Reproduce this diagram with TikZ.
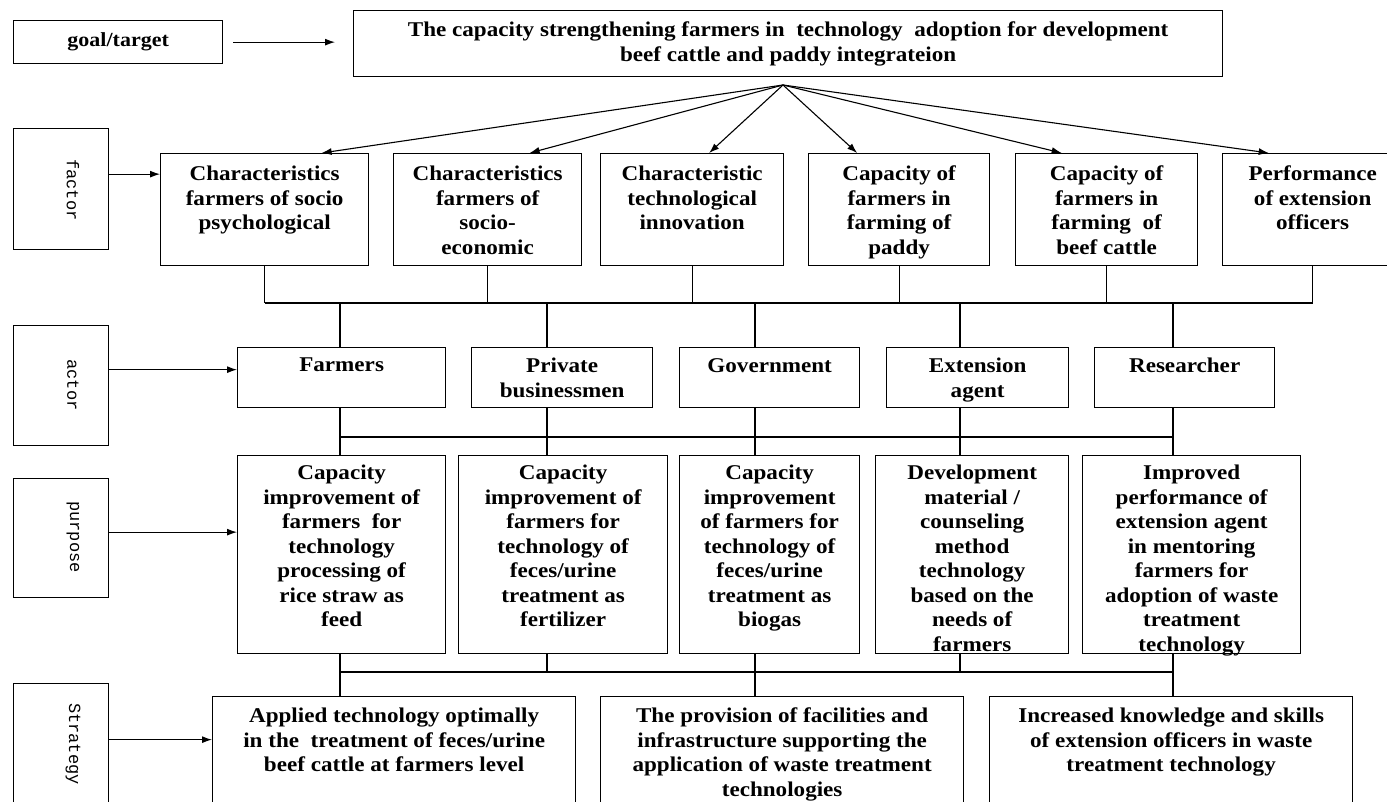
\documentclass[tikz,border=0pt]{standalone}
\usepackage{fontspec}
\setmainfont{Liberation Serif}[FakeStretch=1.1]
\newfontfamily\labelfont{Liberation Mono}
\usetikzlibrary{arrows.meta,calc}
\begin{document}
\begin{tikzpicture}[x=1pt,y=1pt,
  box/.style={draw, line width=1.3pt, inner sep=0pt, anchor=north west},
  txt/.style={inner sep=0pt, anchor=north, align=center, font=\fontsize{21}{24.5}\selectfont\bfseries},
  side/.style={inner sep=0pt, rotate=-90, font=\labelfont\fontsize{17}{17}\selectfont},
  conn/.style={line width=1.1pt},
  arr/.style={line width=1.1pt, -{Latex[length=10pt,width=7pt]}},
]
\fill[white] (0,0) rectangle (1387,-802);
\useasboundingbox (0,0) rectangle (1387,-802);
\clip (0,0) rectangle (1387,-802);

% left labels
\node[box, minimum width=209pt, minimum height=43pt, font=\fontsize{20}{24}\selectfont\bfseries] (goal) at (13,-20) {goal/target};
\node[box, minimum width=95pt, minimum height=121pt] (lf) at (13,-128) {};
\node[side] (lft) at (73,-190) {factor};
\node[box, minimum width=95pt, minimum height=120pt] (la) at (13,-325) {};
\node[side] (lat) at (73,-385) {actor};
\node[box, minimum width=95pt, minimum height=119pt] (lp) at (13,-478) {};
\node[side] (lpt) at (73,-537) {purpose};
\node[box, minimum width=95pt, minimum height=140pt] (ls) at (13,-683) {};
\node[side] (lst) at (73,-744) {Strategy};

% main box
\node[box, minimum width=869pt, minimum height=66pt] (main) at (353,-10) {};
\node[txt] (maint) at ([yshift=-12pt]main.north) {The capacity strengthening farmers in\ \ technology\ \ adoption for development\\beef cattle and paddy integrateion};
\coordinate (apex) at (783,-85);

% factor boxes
\node[box, minimum width=208pt, minimum height=112pt] (f1) at (160,-153) {};
\node[box, minimum width=188pt, minimum height=112pt] (f2) at (393,-153) {};
\node[box, minimum width=183pt, minimum height=112pt] (f3) at (600,-153) {};
\node[box, minimum width=181pt, minimum height=112pt] (f4) at (808,-153) {};
\node[box, minimum width=182pt, minimum height=112pt] (f5) at (1015,-153) {};
\node[box, minimum width=180pt, minimum height=112pt] (f6) at (1222,-153) {};
\node[txt] (f1t) at ([yshift=-13pt]f1.north) {Characteristics\\farmers of socio\\psychological};
\node[txt] (f2t) at ([yshift=-13pt]f2.north) {Characteristics\\farmers of\\socio-\\economic};
\node[txt] (f3t) at ([yshift=-13pt]f3.north) {Characteristic\\technological\\innovation};
\node[txt] (f4t) at ([yshift=-13pt]f4.north) {Capacity of\\farmers in\\farming of\\paddy};
\node[txt] (f5t) at ([yshift=-13pt]f5.north) {Capacity of\\farmers in\\farming\ \ of\\beef cattle};
\node[txt] (f6t) at ([yshift=-13pt]f6.north) {Performance\\of extension\\officers};

% actor boxes
\node[box, minimum width=208pt, minimum height=60pt] (a1) at (237,-347) {};
\node[box, minimum width=181pt, minimum height=60pt] (a2) at (471,-347) {};
\node[box, minimum width=180pt, minimum height=60pt] (a3) at (679,-347) {};
\node[box, minimum width=182pt, minimum height=60pt] (a4) at (886,-347) {};
\node[box, minimum width=180pt, minimum height=60pt] (a5) at (1094,-347) {};
\node[txt] (a1t) at ([yshift=-11pt]a1.north) {Farmers};
\node[txt] (a2t) at ([yshift=-11pt]a2.north) {Private\\businessmen};
\node[txt] (a3t) at ([yshift=-11pt]a3.north) {Government};
\node[txt] (a4t) at ([yshift=-11pt]a4.north) {Extension\\agent};
\node[txt] (a5t) at ([yshift=-11pt]a5.north) {Researcher};

% purpose boxes
\node[box, minimum width=208pt, minimum height=198pt] (p1) at (237,-455) {};
\node[box, minimum width=209pt, minimum height=198pt] (p2) at (458,-455) {};
\node[box, minimum width=180pt, minimum height=198pt] (p3) at (679,-455) {};
\node[box, minimum width=193pt, minimum height=198pt] (p4) at (875,-455) {};
\node[box, minimum width=218pt, minimum height=198pt] (p5) at (1082,-455) {};
\node[txt] (p1t) at ([yshift=-10pt]p1.north) {Capacity\\improvement of\\farmers\ \ for\\technology\\processing of\\rice straw as\\feed};
\node[txt] (p2t) at ([yshift=-10pt]p2.north) {Capacity\\improvement of\\farmers for\\technology of\\feces/urine\\treatment as\\fertilizer};
\node[txt] (p3t) at ([yshift=-10pt]p3.north) {Capacity\\improvement\\of farmers for\\technology of\\feces/urine\\treatment as\\biogas};
\node[txt] (p4t) at ([yshift=-10pt]p4.north) {Development\\material /\\counseling\\method\\technology\\based on the\\needs of\\farmers};
\node[txt] (p5t) at ([yshift=-10pt]p5.north) {Improved\\performance of\\extension agent\\in mentoring\\farmers for\\adoption of waste\\treatment\\technology};

% strategy boxes
\node[box, minimum width=363pt, minimum height=140pt] (s1) at (212,-696) {};
\node[box, minimum width=363pt, minimum height=140pt] (s2) at (600,-696) {};
\node[box, minimum width=363pt, minimum height=140pt] (s3) at (989,-696) {};
\node[txt] (s1t) at ([yshift=-12pt]s1.north) {Applied technology optimally\\in the\ \ treatment of feces/urine\\beef cattle at farmers level};
\node[txt] (s2t) at ([yshift=-12pt]s2.north) {The provision of facilities and\\infrastructure supporting the\\application of waste treatment\\technologies};
\node[txt] (s3t) at ([yshift=-12pt]s3.north) {Increased knowledge and skills\\of extension officers in waste\\treatment technology};

% label arrows
\draw[arr, shorten <=10pt, shorten >=18pt] (goal.east) -- (goal.east -| main.west);
\draw[arr] ([yshift=15pt]lf.east) -- ([yshift=15pt]lf.east -| f1.west);
\draw[arr] ([yshift=16pt]la.east) -- ([yshift=16pt]la.east -| a1.west);
\draw[arr] ([yshift=6pt]lp.east) -- ([yshift=6pt]lp.east -| p1.west);
\draw[arr] ([yshift=14pt]ls.east) -- ([yshift=14pt]ls.east -| s1.west);

% fan
\draw[arr] (apex) -- ([xshift=57pt]f1.north);
\draw[arr] (apex) -- ([xshift=42pt]f2.north);
\draw[arr] (apex) -- ([xshift=17pt]f3.north);
\draw[arr] (apex) -- ([xshift=-42pt]f4.north);
\draw[arr] (apex) -- ([xshift=-45pt]f5.north);
\draw[arr] (apex) -- ([xshift=-44pt]f6.north);

% buses
\coordinate (bus1) at (0,-303);
\coordinate (bus2) at (0,-437);
\coordinate (bus3) at (0,-672);
\coordinate (c1) at (340,0);
\coordinate (c2) at (547,0);
\coordinate (c3) at (755,0);
\coordinate (c4) at (960,0);
\coordinate (c5) at (1173,0);

\foreach \n in {f1,f2,f3,f4,f5,f6} \draw[conn] (\n.south) -- (\n.south |- bus1);
\draw[conn] (f1.south |- bus1) -- (f6.south |- bus1);
\foreach \i in {1,...,5} {
  \draw[conn] (c\i |- bus1) -- (a\i.north -| c\i);
  \draw[conn] (a\i.south -| c\i) -- (p\i.north -| c\i);
}
\draw[conn] (c1 |- bus2) -- (c5 |- bus2);
\draw[conn] (p1.south -| c1) -- (s1.north -| c1);
\draw[conn] (p2.south -| c2) -- (c2 |- bus3);
\draw[conn] (p3.south -| c3) -- (s2.north -| c3);
\draw[conn] (p4.south -| c4) -- (c4 |- bus3);
\draw[conn] (p5.south -| c5) -- (s3.north -| c5);
\draw[conn] (c1 |- bus3) -- (c5 |- bus3);
\end{tikzpicture}
\end{document}
